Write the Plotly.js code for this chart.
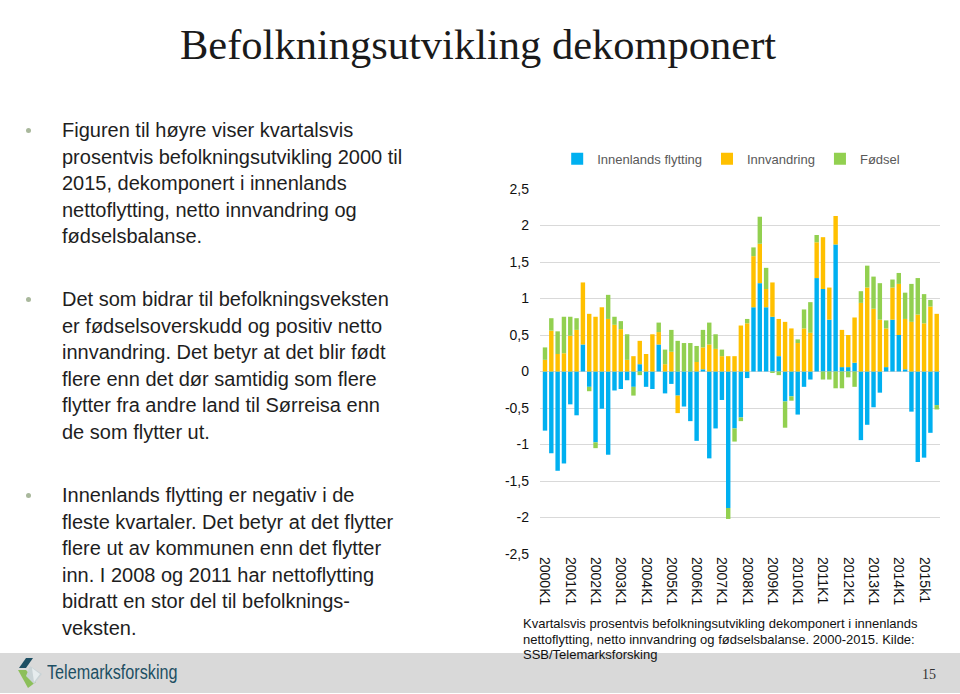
<!DOCTYPE html>
<html>
<head>
<meta charset="utf-8">
<script src="https://cdn.plot.ly/plotly-3.0.1.min.js"></script>
<style>
  html, body { margin:0; padding:0; background:#ffffff; }
  body { width:960px; height:694px; position:relative; overflow:hidden; font-family:"Liberation Sans", Arial, sans-serif; }
  #chart { position:absolute; left:0; top:0; width:960px; height:694px; z-index:2; }
  .title { position:absolute; left:180px; top:24px; font-family:"Liberation Serif", "Times New Roman", serif; font-size:42.5px; line-height:42px; color:#1a1a1a; white-space:nowrap; z-index:3; }
  .bullet { position:absolute; left:62px; font-size:20px; line-height:26.5px; color:#1e1e1e; white-space:nowrap; z-index:3; }
  .dot { position:absolute; left:26px; width:5px; height:5px; border-radius:50%; background:#a9b89c; z-index:3; }
  .caption { position:absolute; left:523px; top:616px; font-size:13px; line-height:15.5px; color:#111; white-space:nowrap; z-index:3; }
  .footer { position:absolute; left:0; top:653px; width:960px; height:40px; background:#d9d9d9; z-index:1; }
  .logo { position:absolute; left:47px; top:661px; font-family:"Liberation Sans", sans-serif; font-size:20px; color:#1d4f63; z-index:3; transform:scaleX(0.81); transform-origin:left center; }
  .pagenum { position:absolute; left:922px; top:667px; font-family:"Liberation Serif", serif; font-size:14px; color:#333; z-index:3; }
</style>
</head>
<body>
<div class="footer"></div>
<div class="title">Befolkningsutvikling dekomponert</div>

<div class="dot" style="top:128px;"></div>
<div class="bullet" style="top:117px;">Figuren til høyre viser kvartalsvis<br>prosentvis befolkningsutvikling 2000 til<br>2015, dekomponert i innenlands<br>nettoflytting, netto innvandring og<br>fødselsbalanse.</div>

<div class="dot" style="top:297px;"></div>
<div class="bullet" style="top:286px;">Det som bidrar til befolkningsveksten<br>er fødselsoverskudd og positiv netto<br>innvandring. Det betyr at det blir født<br>flere enn det dør samtidig som flere<br>flytter fra andre land til Sørreisa enn<br>de som flytter ut.</div>

<div class="dot" style="top:493px;"></div>
<div class="bullet" style="top:482px;">Innenlands flytting er negativ i de<br>fleste kvartaler. Det betyr at det flytter<br>flere ut av kommunen enn det flytter<br>inn. I 2008 og 2011 har nettoflytting<br>bidratt en stor del til befolknings-<br>veksten.</div>

<div class="caption">Kvartalsvis prosentvis befolkningsutvikling dekomponert i innenlands<br>nettoflytting, netto innvandring og fødselsbalanse. 2000-2015. Kilde:<br>SSB/Telemarksforsking</div>

<svg style="position:absolute;left:14px;top:656px;z-index:3;" width="34" height="34" viewBox="0 0 34 34">
  <polygon points="12,2 19,2 12,12 5,12" fill="#1d4f63"/>
  <polygon points="4,14 12,14 22,26 14,32" fill="#8cbf5a"/>
  <polygon points="16,10 28,18 20,28 12,20" fill="#c9d3d6"/>
  <polygon points="18,12 26,18 20,26" fill="#e6ecee"/>
</svg>
<div class="logo">Telemarksforsking</div>
<div class="pagenum">15</div>

<div id="chart"></div>

<script>
// Quarterly categories 2000K1 .. 2015K3
const categories = [
  '2000K1','2000K2','2000K3','2000K4','2001K1','2001K2','2001K3','2001K4',
  '2002K1','2002K2','2002K3','2002K4','2003K1','2003K2','2003K3','2003K4',
  '2004K1','2004K2','2004K3','2004K4','2005K1','2005K2','2005K3','2005K4',
  '2006K1','2006K2','2006K3','2006K4','2007K1','2007K2','2007K3','2007K4',
  '2008K1','2008K2','2008K3','2008K4','2009K1','2009K2','2009K3','2009K4',
  '2010K1','2010K2','2010K3','2010K4','2011K1','2011K2','2011K3','2011K4',
  '2012K1','2012K2','2012K3','2012K4','2013K1','2013K2','2013K3','2013K4',
  '2014K1','2014K2','2014K3','2014K4','2015K1','2015K2','2015K3'
];

// Innenlands flytting (net domestic migration, %)
const innenlands = [
  -0.81,-1.12,-1.36,-1.26,-0.45,-0.60, 0.37,-0.21,
  -0.97,-0.51,-1.14,-0.26,-0.24,-0.12,-0.21, 0.10,
  -0.21,-0.24, 0.37,-0.30,-0.17,-0.33,-0.48,-0.68,
  -0.95, 0.03,-1.19,-0.78,-0.39,-1.87,-0.78,-0.63,
  -0.09, 0.88, 1.21, 0.88, 0.75, 0.21,-0.41,-0.34,
  -0.59,-0.21,-0.11, 1.28, 1.13, 0.71, 1.74, 0.06,
   0.06, 0.12,-0.94,-0.73,-0.49,-0.29, 0.06, 0.71,
   0.50, 0.03,-0.55,-1.24,-1.18,-0.84,-0.46
];

// Innvandring (net immigration, %)
const innvandring = [
   0.16, 0.56, 0.24, 0.25, 0.49, 0.57, 0.85, 0.79,
   0.75, 0.88, 0.72, 0.64, 0.58, 0.16, 0.21, 0.32,
   0.24, 0.51, 0.17, 0.10, 0.27,-0.24, 0.00, 0.00,
   0.13, 0.30, 0.37, 0.31, 0.21, 0.21, 0.21, 0.63,
   0.66, 0.70, 0.54, 0.25, 0.47, 0.51, 0.68, 0.59,
   0.39, 0.59, 0.53, 0.49, 0.71, 0.44, 0.39, 0.51,
   0.44, 0.62, 0.94, 1.15, 0.86, 0.71, 0.53, 0.44,
   0.70, 0.69, 0.68, 0.78, 0.66, 0.89, 0.79
];

// Fødsel (birth balance, %)
const fodsel = [
   0.17, 0.17, 0.31, 0.50, 0.26, 0.16, 0.00,-0.06,
  -0.08, 0.00, 0.33, 0.11, 0.11, 0.35,-0.12,-0.05,
   0.00, 0.00, 0.13, 0.20, 0.30, 0.42, 0.39, 0.39,
   0.22, 0.24, 0.30, 0.20, 0.09,-0.15,-0.18,-0.05,
   0.06, 0.12, 0.37, 0.29,-0.02,-0.05,-0.36,-0.06,
   0.05, 0.26, 0.42, 0.10,-0.11,-0.11,-0.23,-0.23,
  -0.08,-0.21, 0.16, 0.30, 0.44, 0.50, 0.11, 0.11,
   0.15, 0.36, 0.52, 0.50, 0.40, 0.09,-0.06
];

const seriesNames = ['Innenlands flytting', 'Innvandring', 'Fødsel'];
const seriesColors = ['#00B0F0', '#FFC000', '#92D050'];

const xTickVals = ['2000K1','2001K1','2002K1','2003K1','2004K1','2005K1','2006K1','2007K1',
                   '2008K1','2009K1','2010K1','2011K1','2012K1','2013K1','2014K1','2015K1'];
const xTickText = ['2000K1','2001K1','2002K1','2003K1','2004K1','2005K1','2006K1','2007K1',
                   '2008K1','2009K1','2010K1','2011K1','2012K1','2013K1','2014K1','2015k1'];
const yTickVals = [2.5, 2, 1.5, 1, 0.5, 0, -0.5, -1, -1.5, -2, -2.5];
const yTickText = ['2,5','2','1,5','1','0,5','0','-0,5','-1','-1,5','-2','-2,5'];

const seriesValues = [innenlands, innvandring, fodsel];
const traces = seriesValues.map((vals, k) => ({
  type: 'bar',
  name: seriesNames[k],
  x: categories,
  y: vals,
  marker: { color: seriesColors[k], line: { width: 0 } },
  hoverinfo: 'x+y+name'
}));

const layout = {
  width: 960,
  height: 694,
  margin: { l: 540, r: 20, t: 189, b: 140, pad: 0 },
  paper_bgcolor: 'rgba(0,0,0,0)',
  plot_bgcolor: 'rgba(0,0,0,0)',
  barmode: 'relative',
  bargap: 0.3,
  font: { family: '"Liberation Sans", Arial, sans-serif', color: '#595959', size: 14 },
  showlegend: true,
  legend: {
    orientation: 'h',
    x: 0.043, xanchor: 'left',
    y: 1.083, yanchor: 'middle',
    font: { size: 13, color: '#595959' },
    bgcolor: 'rgba(0,0,0,0)',
    traceorder: 'normal'
  },
  xaxis: {
    type: 'category',
    range: [-0.79, 62.52],
    tickmode: 'array',
    tickvals: xTickVals,
    ticktext: xTickText,
    tickangle: 90,
    ticks: '',
    showgrid: false,
    zeroline: false,
    showline: false,
    tickfont: { size: 14, color: '#111' },
    ticklabelstandoff: 2,
    fixedrange: true
  },
  yaxis: {
    range: [-2.5, 2.5],
    tickmode: 'array',
    tickvals: yTickVals,
    ticktext: yTickText,
    showgrid: true,
    gridcolor: '#d9d9d9',
    gridwidth: 1,
    zeroline: false,
    showline: false,
    ticks: '',
    ticklabelstandoff: 10,
    tickfont: { size: 14, color: '#111' },
    fixedrange: true
  }
};

Plotly.newPlot('chart', traces, layout, { displayModeBar: false, staticPlot: true });
</script>
</body>
</html>
